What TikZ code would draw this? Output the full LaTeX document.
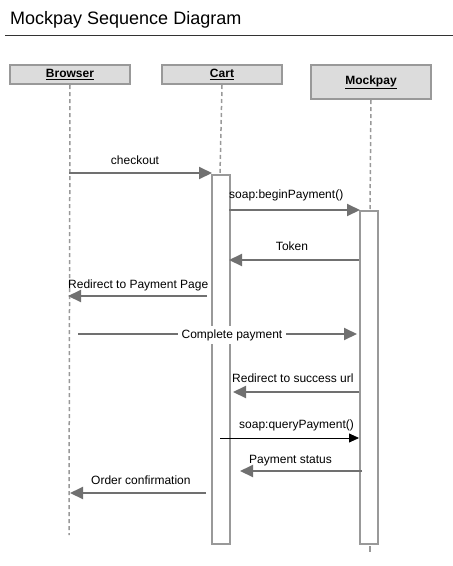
\documentclass[tikz,border=0pt]{standalone}
\usepackage{fontspec}
\setmainfont{Liberation Sans}
\usetikzlibrary{arrows.meta}
\definecolor{boxfill}{HTML}{DCDCDC}
\definecolor{boxline}{HTML}{999999}
\definecolor{msgcol}{HTML}{707070}
\begin{document}
\begin{tikzpicture}[x=1pt,y=-1pt,
  participant/.style={draw=boxline,line width=2pt,fill=boxfill,inner sep=0pt,anchor=north west,font=\fontsize{12}{14}\selectfont\bfseries},
  lifeline/.style={draw=boxline,line width=1.5pt,dash pattern=on 4pt off 3pt},
  activation/.style={draw=boxline,line width=2pt,fill=white,inner sep=0pt,anchor=north west},
  msg/.style={draw=msgcol,line width=2pt,-{Triangle[length=13pt,width=12pt]}},
  syncmsg/.style={draw=black,line width=0.8pt,-{Triangle[length=10pt,width=9pt]}},
  lbl/.style={font=\fontsize{12}{14}\selectfont,inner sep=0pt,anchor=base},
]
\useasboundingbox (0,0) rectangle (453,566);
% title
\node[font=\fontsize{18}{21}\selectfont,anchor=base west,inner sep=0pt] (title) at (10,24) {Mockpay Sequence Diagram};
\coordinate (rulel) at (5,35);
\coordinate (ruler) at (453,35);
\draw[line width=0.8pt,black!80] (rulel) -- (ruler);

% participants
\node[participant,minimum width=120pt,minimum height=19pt] (browser) at (9,64) {\underline{Browser}};
\node[participant,minimum width=120pt,minimum height=19pt] (cart) at (161,64) {\underline{Cart}};
\node[participant,minimum width=120pt,minimum height=34pt] (mockpay) at (310,64) {\underline{Mockpay}};

% lifelines
\coordinate (bend) at (69,535);
\coordinate (ctop) at (220,174);
\coordinate (mtop) at (370,210);
\coordinate (mtick1) at (370,546);
\coordinate (mtick2) at (370,552);
\draw[lifeline] (browser.south) -- (bend);
\draw[lifeline] (cart.south) -- (ctop);
\draw[lifeline] (mockpay.south) -- (mtop);
\draw[draw=boxline,line width=1.5pt] (mtick1) -- (mtick2);

% activations
\node[activation,minimum width=18pt,minimum height=369pt] (cact) at (211,174) {};
\node[activation,minimum width=18pt,minimum height=333pt] (mact) at (359,210) {};

% message endpoints
\coordinate (m1s) at (69,173);   \coordinate (m1e) at (212,173);
\coordinate (m2s) at (229,210);  \coordinate (m2e) at (360,210);
\coordinate (m3s) at (359,260);  \coordinate (m3e) at (229,260);
\coordinate (m4s) at (207,296);  \coordinate (m4e) at (68,296);
\coordinate (m5s) at (78,334);   \coordinate (m5e) at (357,334);
\coordinate (m6s) at (359,392);  \coordinate (m6e) at (233,392);
\coordinate (m7s) at (220,438);  \coordinate (m7e) at (359,438);
\coordinate (m8s) at (362,471);  \coordinate (m8e) at (240,471);
\coordinate (m9s) at (206,493);  \coordinate (m9e) at (70,493);

\draw[msg] (m1s) -- (m1e);
\node[lbl] (l1) at (135,164) {checkout};
\draw[msg] (m2s) -- (m2e);
\node[lbl,anchor=base west] (l2) at (229,198) {soap:beginPayment()};
\draw[msg] (m3s) -- (m3e);
\node[lbl] (l3) at (292,250) {Token};
\draw[msg] (m4s) -- (m4e);
\node[lbl,anchor=base west] (l4) at (68,288) {Redirect to Payment Page};
\draw[msg] (m5s) -- (m5e);
\node[lbl,anchor=center,fill=white,inner xsep=4pt,inner ysep=3pt] (l5) at (232,335) {Complete payment};
\draw[msg] (m6s) -- (m6e);
\node[lbl,anchor=base west] (l6) at (232,382) {Redirect to success url};
\draw[syncmsg] (m7s) -- (m7e);
\node[lbl,anchor=base west] (l7) at (239,428) {soap:queryPayment()};
\draw[msg] (m8s) -- (m8e);
\node[lbl,anchor=base west] (l8) at (249,463) {Payment status};
\draw[msg] (m9s) -- (m9e);
\node[lbl,anchor=base west] (l9) at (91,484) {Order confirmation};
\end{tikzpicture}
\end{document}
